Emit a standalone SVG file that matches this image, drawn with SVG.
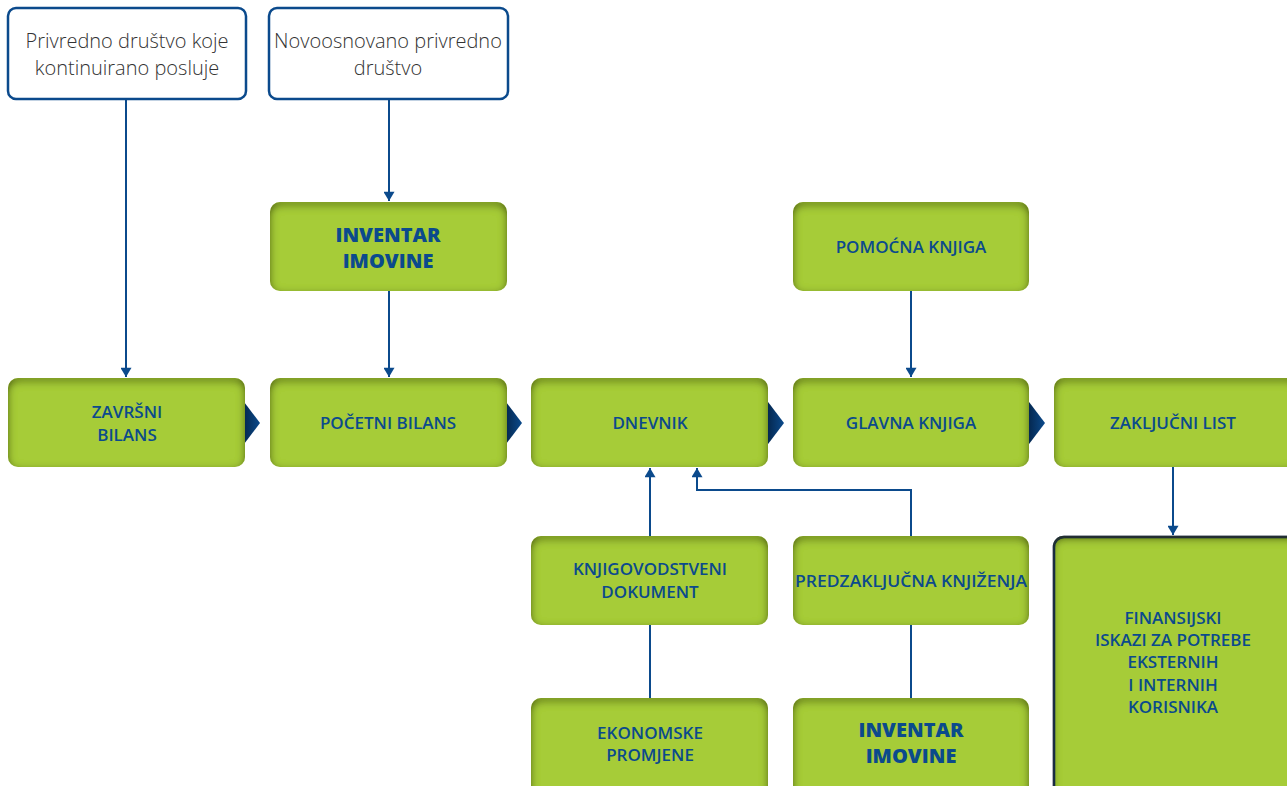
<svg xmlns="http://www.w3.org/2000/svg" width="1287" height="786" viewBox="0 0 1287 786">
<defs>
<style>
.wb{fill:#fff;stroke:#0b4a8c;stroke-width:2.5}
.gb{fill:#a6cc38;filter:url(#inner)}
.wt{font-family:"Open Sans","Liberation Sans",sans-serif;font-weight:300;font-size:20px;fill:#333;text-anchor:middle}
.gt{font-family:"Open Sans","Liberation Sans",sans-serif;font-weight:600;font-size:17px;fill:#0b4a8c;text-anchor:middle}
.bt{font-family:"Open Sans","Liberation Sans",sans-serif;font-weight:800;font-size:20px;fill:#0b4a8c;text-anchor:middle}
.ln{fill:none;stroke:#0b4a8c;stroke-width:2}
.ch{fill:url(#chg)}
</style>
<filter id="inner" x="-5%" y="-5%" width="110%" height="110%">
<feComponentTransfer in="SourceAlpha"><feFuncA type="table" tableValues="1 0"/></feComponentTransfer>
<feGaussianBlur stdDeviation="4"/>
<feOffset dx="0" dy="3" result="ob"/>
<feFlood flood-color="#2a340a" flood-opacity="1"/>
<feComposite in2="ob" operator="in"/>
<feComposite in2="SourceAlpha" operator="in" result="sh"/>
<feMerge><feMergeNode in="SourceGraphic"/><feMergeNode in="sh"/></feMerge>
</filter>
<linearGradient id="chg" x1="0" y1="0" x2="1" y2="0">
<stop offset="0" stop-color="#021c3a"/>
<stop offset="1" stop-color="#0b4a8c"/>
</linearGradient>
<marker id="ah" viewBox="0 0 10 12" refX="10" refY="6" markerWidth="12" markerHeight="11" markerUnits="userSpaceOnUse" orient="auto">
<path d="M0,0 L10,6 L0,12 Z" fill="#0b4a8c"/>
</marker>
</defs>
<rect width="1287" height="786" fill="#fff"/>

<g id="chevrons">
<path class="ch" d="M238,394 L260,423 L238,452 Z"/>
<path class="ch" d="M500,394 L522,423 L500,452 Z"/>
<path class="ch" d="M762,394 L784,423 L762,452 Z"/>
<path class="ch" d="M1023,394 L1045,423 L1023,452 Z"/>
</g>

<g id="connectors">
<path class="ln" d="M126,99 V377" marker-end="url(#ah)"/>
<path class="ln" d="M389,99 V201" marker-end="url(#ah)"/>
<path class="ln" d="M389,291 V377" marker-end="url(#ah)"/>
<path class="ln" d="M911,291 V377" marker-end="url(#ah)"/>
<path class="ln" d="M1173,467 V535" marker-end="url(#ah)"/>
<path class="ln" d="M650,536 V468" marker-end="url(#ah)"/>
<path class="ln" d="M911,536 V490 H697 V468" marker-end="url(#ah)"/>
<path class="ln" d="M650,625 V698"/>
<path class="ln" d="M911,625 V698"/>
</g>

<g id="n-privredno">
<rect class="wb" x="8" y="8" width="238" height="91" rx="8"/>
<text class="wt" x="127" y="48">Privredno društvo koje</text>
<text class="wt" x="127" y="75">kontinuirano posluje</text>
</g>
<g id="n-novoosnovano">
<rect class="wb" x="269" y="8" width="239" height="91" rx="8"/>
<text class="wt" x="388" y="48">Novoosnovano privredno</text>
<text class="wt" x="388" y="75">društvo</text>
</g>
<g id="n-inventar-top">
<rect class="gb" x="270" y="202" width="237" height="89" rx="10"/>
<text class="bt" x="388" y="242">INVENTAR</text>
<text class="bt" x="388" y="268">IMOVINE</text>
</g>
<g id="n-pomocna">
<rect class="gb" x="793" y="202" width="236" height="89" rx="10"/>
<text class="gt" x="911" y="253">POMOĆNA KNJIGA</text>
</g>
<g id="n-zavrsni">
<rect class="gb" x="8" y="378" width="237" height="89" rx="10"/>
<text class="gt" x="127" y="418">ZAVRŠNI</text>
<text class="gt" x="127" y="441">BILANS</text>
</g>
<g id="n-pocetni">
<rect class="gb" x="270" y="378" width="237" height="89" rx="10"/>
<text class="gt" x="388" y="429">POČETNI BILANS</text>
</g>
<g id="n-dnevnik">
<rect class="gb" x="531" y="378" width="237" height="89" rx="10"/>
<text class="gt" x="650" y="429">DNEVNIK</text>
</g>
<g id="n-glavna">
<rect class="gb" x="793" y="378" width="236" height="89" rx="10"/>
<text class="gt" x="911" y="429">GLAVNA KNJIGA</text>
</g>
<g id="n-zakljucni">
<rect class="gb" x="1054" y="378" width="245" height="89" rx="10"/>
<text class="gt" x="1173" y="429">ZAKLJUČNI LIST</text>
</g>
<g id="n-knjigovodstveni">
<rect class="gb" x="531" y="536" width="237" height="89" rx="10"/>
<text class="gt" x="650" y="575">KNJIGOVODSTVENI</text>
<text class="gt" x="650" y="598">DOKUMENT</text>
</g>
<g id="n-predzakljucna">
<rect class="gb" x="793" y="536" width="236" height="89" rx="10"/>
<text class="gt" x="911" y="587" textLength="232" lengthAdjust="spacingAndGlyphs">PREDZAKLJUČNA KNJIŽENJA</text>
</g>
<g id="n-ekonomske">
<rect class="gb" x="531" y="698" width="237" height="100" rx="10"/>
<text class="gt" x="650" y="739">EKONOMSKE</text>
<text class="gt" x="650" y="761">PROMJENE</text>
</g>
<g id="n-inventar-bottom">
<rect class="gb" x="793" y="698" width="236" height="100" rx="10"/>
<text class="bt" x="911" y="737">INVENTAR</text>
<text class="bt" x="911" y="763">IMOVINE</text>
</g>
<g id="n-finansijski">
<rect class="gb" x="1054" y="537" width="245" height="260" rx="10" stroke="#062a55" stroke-width="2.5"/>
<text class="gt" x="1173" y="624">FINANSIJSKI</text>
<text class="gt" x="1173" y="646">ISKAZI ZA POTREBE</text>
<text class="gt" x="1173" y="668">EKSTERNIH</text>
<text class="gt" x="1173" y="691">I INTERNIH</text>
<text class="gt" x="1173" y="713">KORISNIKA</text>
</g>
</svg>
